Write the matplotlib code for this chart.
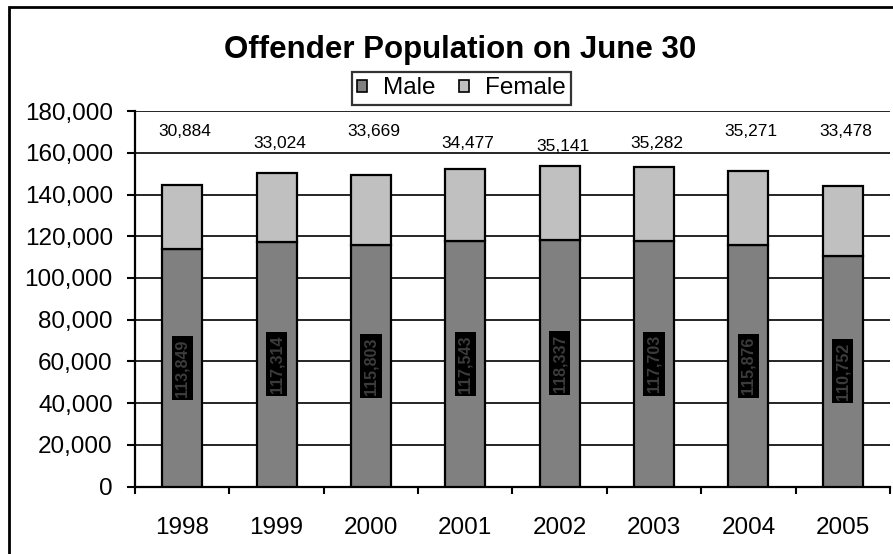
import matplotlib
matplotlib.use("Agg")
import matplotlib.pyplot as plt
from matplotlib.patches import Rectangle
import numpy as np

plt.rcParams["font.family"] = ["Liberation Sans", "DejaVu Sans"]

years = ["1998", "1999", "2000", "2001", "2002", "2003", "2004", "2005"]
male = [113849, 117314, 115803, 117543, 118337, 117703, 115876, 110752]
female = [30884, 33024, 33669, 34477, 35141, 35282, 35271, 33478]

# heights where the female counts are printed
female_label_y = [170400, 164200, 170400, 164200, 163200, 164200, 170400, 170400]

fig = plt.figure(figsize=(8.93, 5.54), dpi=100)
ax = fig.add_axes([0.1512, 0.1215, 0.8454, 0.6781])

x = np.arange(len(years))
width = 0.425
ax.bar(x, male, width, color="#808080", edgecolor="black", linewidth=1.6, label="Male", zorder=3)
ax.bar(x, female, width, bottom=male, color="#c0c0c0", edgecolor="black", linewidth=1.6,
       label="Female", zorder=3)

for xi, m in zip(x, male):
    ax.text(xi, m / 2, f"{m:,}", rotation=90, ha="center", va="center", fontsize=11.5,
            fontweight="bold", color="#3c3c3c", zorder=4,
            bbox=dict(boxstyle="square,pad=0.2", facecolor="black", edgecolor="none"))

for xi, f, ly in zip(x, female, female_label_y):
    ax.text(xi + 0.03, ly, f"{f:,}", ha="center", va="center", fontsize=12.5, zorder=4)

ax.set_xlim(-0.5, len(years) - 0.5)
ax.set_ylim(0, 180000)
ax.set_yticks(np.arange(0, 180001, 20000))
ax.set_yticklabels([f"{v:,}" for v in range(0, 180001, 20000)], fontsize=17.5)
ax.yaxis.grid(True, color="black", linewidth=1.2, zorder=0)
ax.tick_params(axis="y", direction="out", length=6, width=1.5, pad=10)

ax.set_xticks(np.arange(-0.5, len(years), 1.0))
ax.set_xticklabels([])
ax.set_xticks(x, minor=True)
ax.set_xticklabels(years, minor=True, fontsize=17.5)
ax.tick_params(axis="x", which="major", direction="out", length=5, width=1.5)
ax.tick_params(axis="x", which="minor", length=0, pad=22)

for side in ["top", "right"]:
    ax.spines[side].set_visible(False)
for side in ["left", "bottom"]:
    ax.spines[side].set_linewidth(1.6)
ax.set_axisbelow(True)

fig.text(0.515, 0.895, "Offender Population on June 30", ha="center", va="baseline",
         fontsize=22.5, fontweight="bold")

leg = fig.legend(loc="center", bbox_to_anchor=(0.5165, 0.8403), ncol=2, fontsize=17.5,
                 frameon=True, fancybox=False, edgecolor="black", handlelength=0.42,
                 handleheight=0.42, handletextpad=0.65, columnspacing=0.95,
                 borderpad=0.22, borderaxespad=0)
leg.get_frame().set_linewidth(1.6)
for h in leg.legend_handles:
    h.set_linewidth(1.2)

# chart-area border
fig.add_artist(Rectangle((9 / 893, -0.1), 1.2, 1.1 - 7 / 554, transform=fig.transFigure,
                         fill=False, edgecolor="black", linewidth=2, clip_on=False))

fig.savefig("out.png", dpi=100)
